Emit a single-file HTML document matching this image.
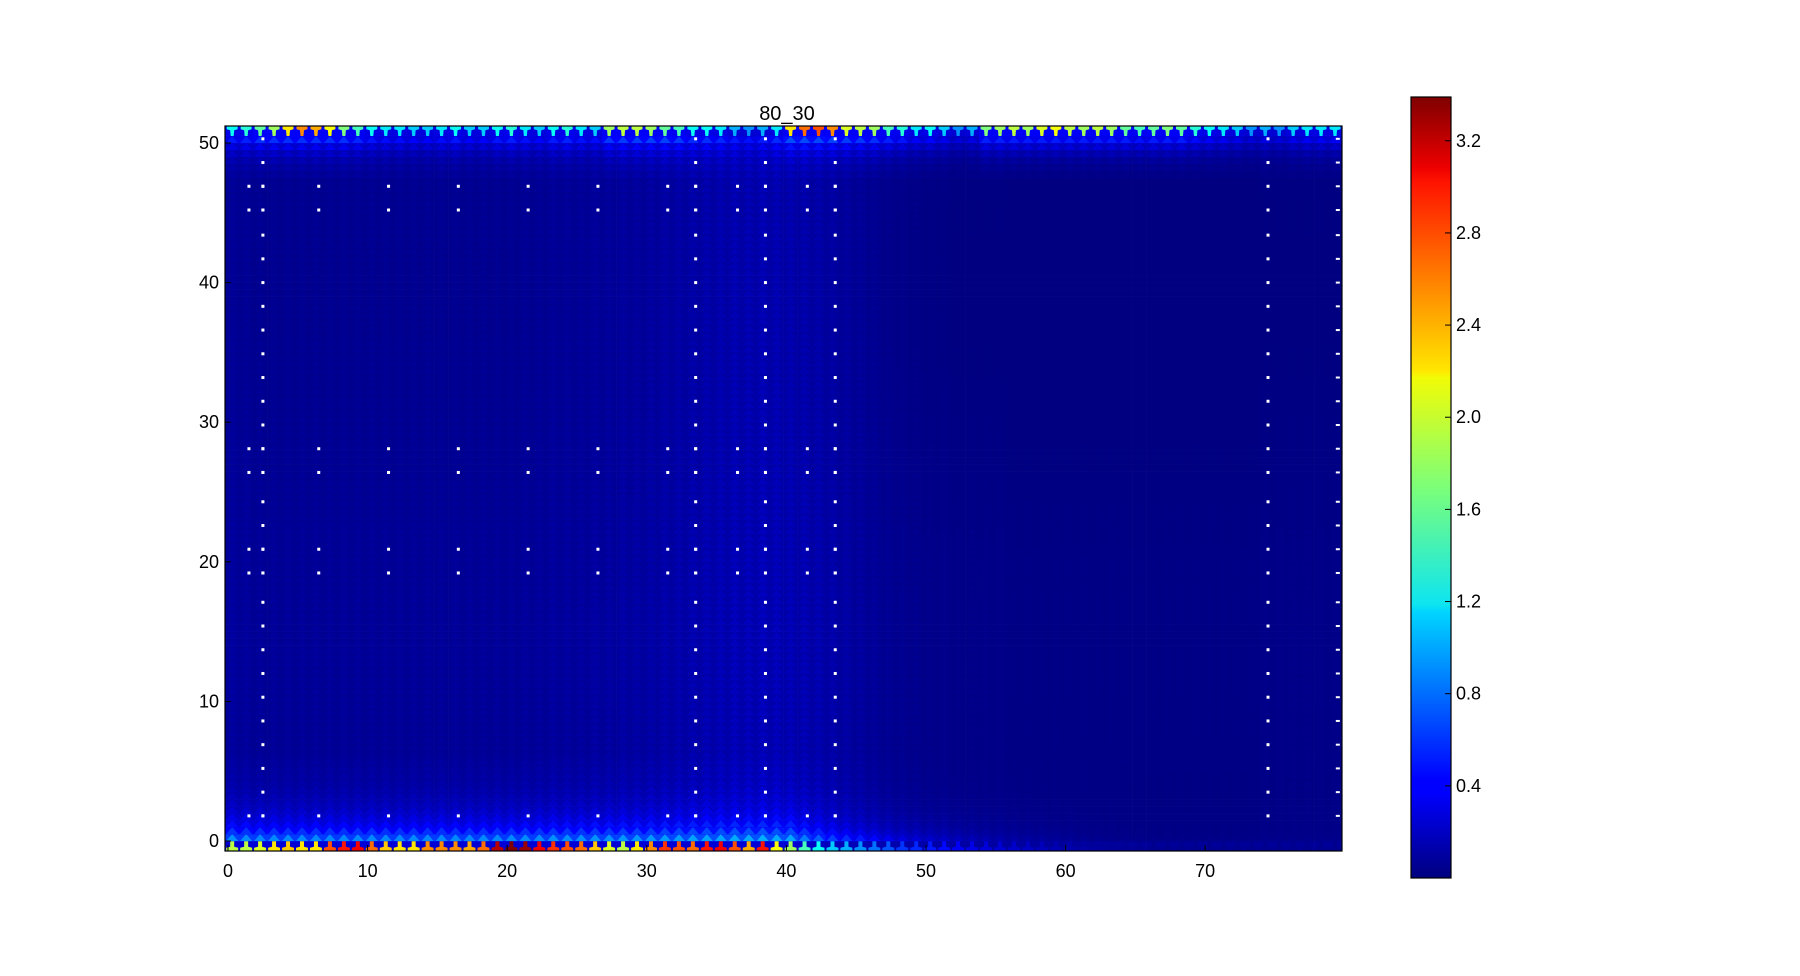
<!DOCTYPE html>
<html><head><meta charset="utf-8">
<style>
html,body{margin:0;padding:0;background:#fff;}
svg{display:block;font-family:"Liberation Sans",sans-serif;}
</style></head>
<body>
<svg id="chart" width="1800" height="976" viewBox="0 0 1800 976">
<rect x="0" y="0" width="1800" height="976" fill="#fff"/>
<g id="cells"></g>
<g id="dots"></g>
<rect x="225" y="126" width="1117" height="725" fill="none" stroke="#000" stroke-width="1.2"/>
<g id="axes"></g>
<text x="787" y="120" font-size="20" text-anchor="middle">80_30</text>
<defs><linearGradient id="jetg" x1="0" y1="1" x2="0" y2="0">
<stop offset="0" stop-color="#00007f"/><stop offset="0.11" stop-color="#0000ff"/><stop offset="0.125" stop-color="#0000ff"/>
<stop offset="0.34" stop-color="#00d4ff"/><stop offset="0.35" stop-color="#0de5f1"/><stop offset="0.5" stop-color="#7cff79"/>
<stop offset="0.64" stop-color="#f1fc06"/><stop offset="0.65" stop-color="#ffe600"/><stop offset="0.89" stop-color="#ff1400"/>
<stop offset="0.91" stop-color="#ed0000"/><stop offset="1" stop-color="#7f0000"/></linearGradient></defs>
<rect x="1411" y="97" width="40" height="781" fill="url(#jetg)" stroke="#000" stroke-width="1.2"/>
<g id="cbar"></g>
</svg>
<script>
const bottomRow=[1.9,1.9,2.0,2.2,2.3,2.2,2.2,2.7,2.9,3.0,2.6,2.3,2.2,2.2,2.5,2.5,2.5,2.4,2.6,3.2,3.4,3.3,3.0,2.8,2.7,2.6,2.3,2.0,1.9,2.2,2.5,2.8,2.7,2.6,2.9,3.0,2.7,2.4,2.9,2.1,1.8,1.5,1.3,1.1,1.0,0.9,0.8,0.7,0.6,0.55,0.5,0.45,0.4,0.35,0.3,0.28,0.25,0.22,0.2,0.17,0.15,0.12,0.1,0.08,0.07,0.06,0.05,0.05,0.05,0.05,0.05,0.05,0.05,0.05,0.05,0.05,0.05,0.05,0.05,0.05];
const topRow=[1.3,1.4,1.6,1.8,2.2,2.5,2.4,2.1,1.7,1.5,1.3,1.2,1.2,1.1,1.1,1.2,1.3,1.1,1.1,1.3,1.4,1.2,1.1,1.3,1.4,1.2,1.1,1.8,1.9,1.9,1.8,1.6,1.5,1.3,1.3,1.2,1.0,0.9,1.0,1.2,2.2,2.6,2.7,2.5,2.0,1.9,1.8,1.5,1.4,1.2,1.3,1.1,0.9,1.0,1.7,1.8,1.9,1.8,2.0,2.1,1.9,1.8,1.9,1.8,1.6,1.5,1.6,1.7,1.6,1.4,1.3,1.2,1.1,0.9,1.0,0.9,1.1,1.2,1.2,1.2];
const colBase=[0.1,0.09,0.08,0.08,0.08,0.08,0.08,0.08,0.08,0.08,0.08,0.08,0.08,0.08,0.08,0.08,0.08,0.08,0.08,0.08,0.08,0.09,0.09,0.1,0.1,0.1,0.11,0.11,0.12,0.12,0.13,0.14,0.15,0.16,0.17,0.18,0.19,0.19,0.2,0.19,0.18,0.17,0.16,0.14,0.12,0.1,0.08,0.06,0.05,0.04,0.03,0.03,0.02,0.02,0.02,0.02,0.01,0.01,0.01,0.01,0.01,0.01,0.01,0.01,0.01,0.01,0.01,0.01,0.01,0.01,0.01,0.01,0.01,0.01,0.02,0.02,0.02,0.02,0.02,0.02];
const bottomBoost=[0.8,0.5,0.35,0.25,0.18,0.13,0.1,0.07,0.05,0.04,0.03,0.02];
const topBoost=[0.5,0.3,0.18,0.1,0.06,0.03];
const xTicks=[0,10,20,30,40,50,60,70];
const yTicks=[0,10,20,30,40,50];
const cbTicks=[0.4,0.8,1.2,1.6,2.0,2.4,2.8,3.2];
const dotCols=[2.5,33.5,38.5,43.5,74.5];
const dotRowsX=[1.5,2.5,6.5,11.5,16.5,21.5,26.5,31.5,33.5,36.5,38.5,41.5,43.5];
const dotRowsY=[1.8,19.2,20.9,26.4,28.1,45.2,46.9];
const VMAX=3.39;
const X=v=>228+13.96*v, Y=v=>841-13.96*v;
const CB=v=>878-(v/VMAX)*781;
function jet(v){let t=Math.max(0,Math.min(1,v/VMAX));
 const f=(a)=>Math.max(0,Math.min(1,1.5-Math.abs(4*t-a)));
 const r=f(3),g=f(2),b=f(1);return `rgb(${Math.round(r*255)},${Math.round(g*255)},${Math.round(b*255)})`;}
const NS='http://www.w3.org/2000/svg';
function mk(tag,attrs,parent){const e=document.createElementNS(NS,tag);for(const k in attrs)e.setAttribute(k,attrs[k]);parent.appendChild(e);return e;}
const cells=document.getElementById('cells');
const rowEdges=[-0.7];
for(let y=0;y<50.5;y+=0.5) rowEdges.push(y);
rowEdges.push(50.5);rowEdges.push(51.2);
const nRows=rowEdges.length-1;
for(let i=0;i<80;i++){
 const edgeScale=Math.min(1,bottomRow[i]/1.8);
 const topScale=Math.min(1,topRow[i]/1.6);
 for(let r=0;r<nRows;r++){
  const yb=rowEdges[r], yt=rowEdges[r+1];
  let v, bg;
  const isBottom=r===0, isTop=r===nRows-1;
  if(isBottom){ v=bottomRow[i]; bg=0.08+0.2*edgeScale; }
  else if(isTop){ v=topRow[i]; bg=0.3*topScale+0.1; }
  else{
   v=colBase[i]+0.015*Math.sin(yb*0.12);
   const bi=r-1; if(bi<bottomBoost.length) v+=bottomBoost[bi]*edgeScale;
   const ti=nRows-2-r; if(ti>=0&&ti<topBoost.length) v+=topBoost[ti]*topScale;
   bg=v*0.7;
  }
  const x1=X(i-0.2),x2=X(i+0.8);
  const rect=mk('rect',{x:x1.toFixed(1),y:Y(yt).toFixed(1),width:(x2-x1+0.3).toFixed(1),height:(Y(yb)-Y(yt)+0.3).toFixed(1),fill:jet(bg)},cells);
  
  
  const xm=(x1+x2)/2, yA=Y(yt), yB=Y(yb);
  let pts;
  if(isTop) pts=`${x1+1.5},${yA} ${x2-1.5},${yA} ${x2-1.5},${yA+3} ${xm+2},${yA+4} ${xm+1.5},${yB} ${xm-1.5},${yB} ${xm-2},${yA+4} ${x1+1.5},${yA+3}`;
  else if(isBottom) pts=`${xm-2},${yA} ${xm+2},${yA} ${xm+2},${yB-4} ${x2-1},${yB-3} ${x2-1},${yB} ${x1+1},${yB} ${x1+1},${yB-3} ${xm-2},${yB-4}`;
  else pts=`${xm},${yA} ${x2-1},${yB} ${x1+1},${yB}`;
  const tri=mk('polygon',{points:pts,fill:jet(v)},cells);
  
  
 }
}
const dots=document.getElementById('dots');
function dot(x,y){const d=mk('rect',{x:X(x)-1.5,y:Y(y)-1.5,width:3,height:3,fill:'#fff'},dots);
 
 }
const colDotY=[1.8,3.5,5.2,6.9,8.6,10.3,12.0,13.7,15.4,17.1,19.2,20.9,22.6,24.3,26.4,28.1,29.8,31.5,33.2,34.9,36.6,38.3,40.0,41.7,43.4,45.2,46.9,48.6,50.3];
dotCols.forEach(c=>colDotY.forEach(y=>dot(c,y)));
dotRowsY.forEach(y=>dotRowsX.forEach(x=>dot(x,y)));
colDotY.forEach(y=>{const d=mk('rect',{x:X(79.5)-2,y:Y(y)-1,width:4,height:2,fill:'#fff'},dots);
 
 });
const axes=document.getElementById('axes');
xTicks.forEach(t=>{const l=mk('line',{x1:X(t),x2:X(t),y1:851,y2:845,stroke:'#000'},axes);
 
 const tx=mk('text',{x:X(t),y:877,'font-size':18,'text-anchor':'middle'},axes);tx.textContent=t;
 });
yTicks.forEach(t=>{const l=mk('line',{x1:225,x2:231,y1:Y(t),y2:Y(t),stroke:'#000'},axes);
 
 const tx=mk('text',{x:219,y:Y(t)+6,'font-size':18,'text-anchor':'end'},axes);tx.textContent=t;
 });
const cb=document.getElementById('cbar');
cbTicks.forEach(t=>{const l=mk('line',{x1:1445,x2:1451,y1:CB(t),y2:CB(t),stroke:'#000'},cb);
 
 const tx=mk('text',{x:1456,y:CB(t)+6,'font-size':18},cb);tx.textContent=t.toFixed(1);
 });
</script>
</body></html>
